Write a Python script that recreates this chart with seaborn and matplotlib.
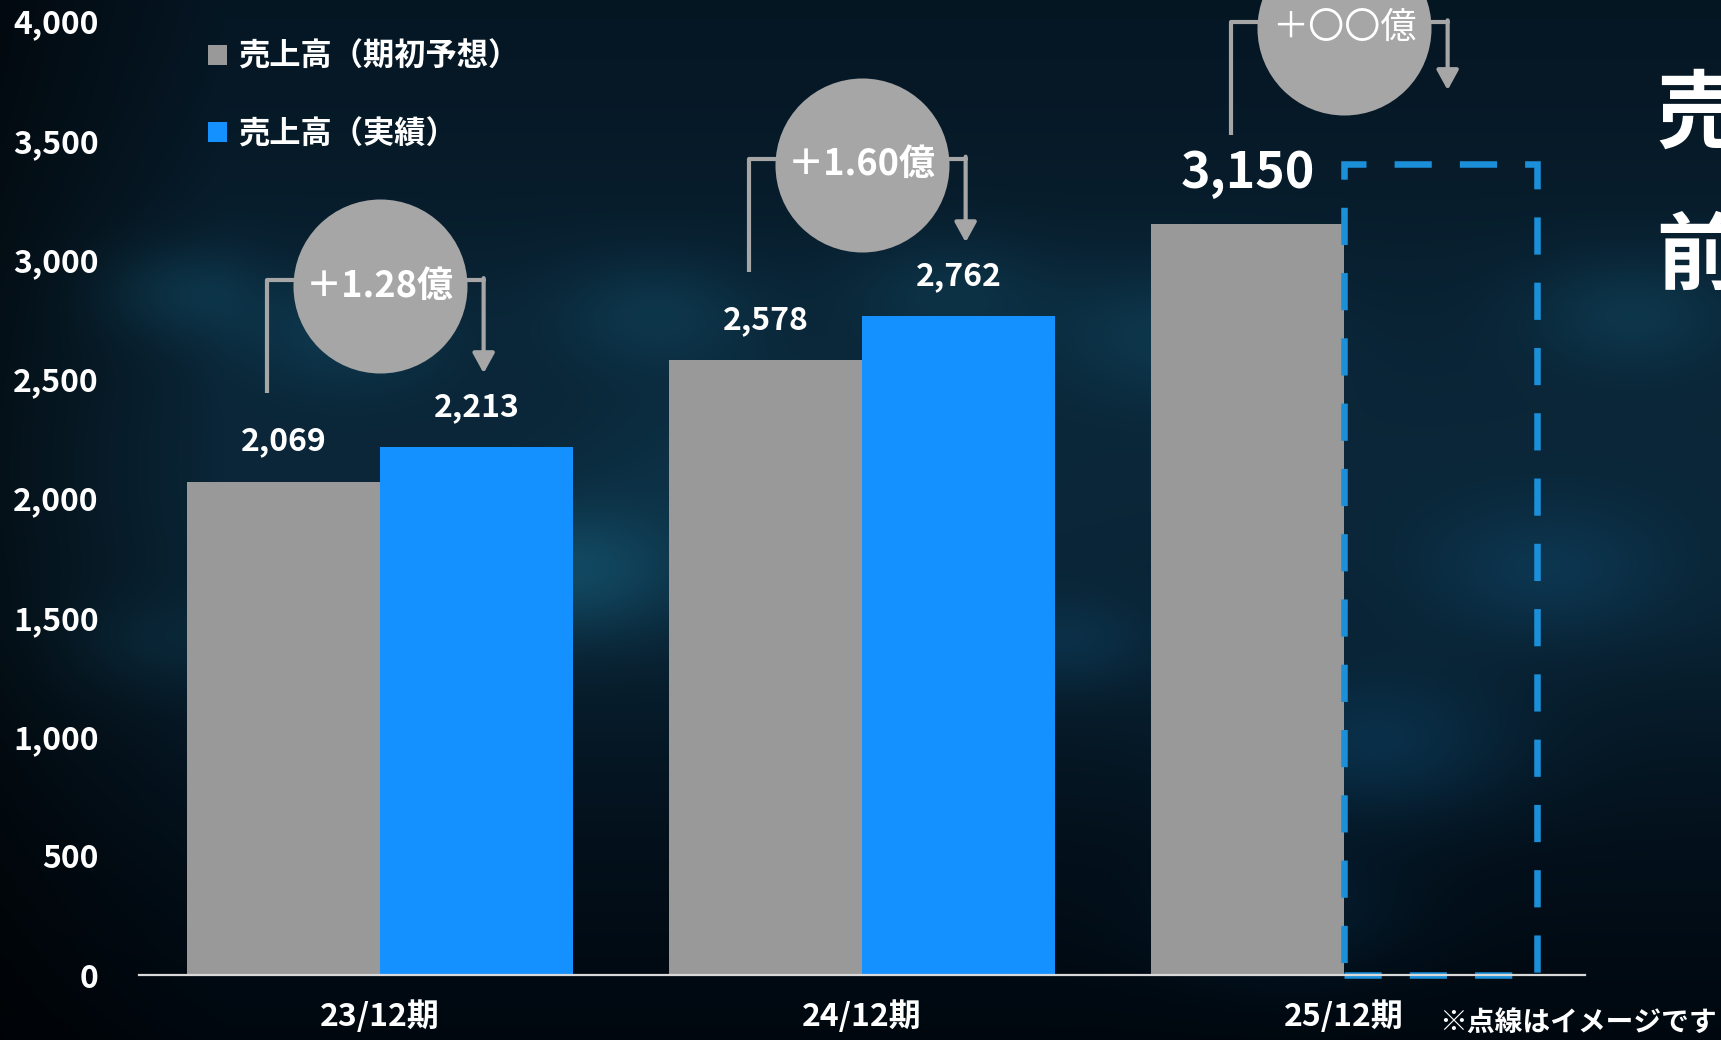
import numpy as np
import pandas as pd
import matplotlib
matplotlib.use("Agg")
import matplotlib.pyplot as plt
import seaborn as sns
from matplotlib.patches import Patch

# ---------------- data ----------------
periods = ["23/12期", "24/12期", "25/12期"]
series_names = ["売上高（期初予想）", "売上高（実績）"]
forecast = [2069, 2578, 3150]
actual = [2213, 2762, np.nan]
image_actual = [np.nan, np.nan, 3400]          # dashed "image" bar
gain_labels = ["＋1.28億", "＋1.60億", "＋〇〇億"]
ytick_values = [0, 500, 1000, 1500, 2000, 2500, 3000, 3500, 4000]
note_text = "※点線はイメージです"
side_titles = ["売", "前"]

# ---------------- style ----------------
GRAY = "#999999"
BLUE = "#1490FF"
DASH = "#1B8FD8"
CIRCLE = "#A6A6A6"
BRACKET = "#A6A6A6"

sns.set_style("white")
plt.rcParams["font.family"] = ["Noto Sans CJK JP", "DejaVu Sans"]

W, H = 1721, 1040
fig = plt.figure(figsize=(W / 100, H / 100), dpi=100)

# ---------------- background ----------------
bg_ax = fig.add_axes([0, 0, 1, 1], zorder=-10)
hh, ww = 260, 430
v, u = np.mgrid[0:1:hh * 1j, 0:1:ww * 1j]
c_top = np.array([0.02, 0.08, 0.13])
c_mid = np.array([0.04, 0.15, 0.22])
c_bot = np.array([0.00, 0.03, 0.06])
w_mid = np.exp(-((v - 0.45) / 0.30) ** 2)
w_bot = np.clip((v - 0.60) / 0.40, 0, 1) ** 1.2
img = (c_top[None, None, :] * (1 - w_mid[..., None]) + c_mid[None, None, :] * w_mid[..., None])
img = img * (1 - w_bot[..., None]) + c_bot[None, None, :] * w_bot[..., None]
teal = np.array([0.10, 0.45, 0.55])
blue_glow = np.array([0.05, 0.30, 0.45])
spots = [
    (0.10, 0.28, 0.05, 0.35, teal), (0.20, 0.32, 0.06, 0.30, teal),
    (0.33, 0.55, 0.07, 0.55, teal), (0.38, 0.30, 0.06, 0.30, teal),
    (0.55, 0.28, 0.06, 0.25, teal), (0.68, 0.32, 0.07, 0.30, teal),
    (0.62, 0.62, 0.05, 0.35, blue_glow), (0.80, 0.72, 0.08, 0.55, blue_glow),
    (0.90, 0.55, 0.07, 0.40, blue_glow), (0.95, 0.30, 0.06, 0.30, teal),
    (0.75, 0.88, 0.07, 0.35, blue_glow), (0.08, 0.62, 0.05, 0.20, teal),
    (0.45, 0.45, 0.10, 0.20, teal),
]
for (cx, cy, s, a, col) in spots:
    g = np.exp(-(((u - cx) / s) ** 2 + ((v - cy) / (s * 0.9)) ** 2))
    img = img + a * g[..., None] * col[None, None, :] * 0.55
left_dark = np.clip(1 - u / 0.13, 0, 1) * 0.55
img = img * (1 - left_dark[..., None])
img = np.clip(img, 0, 1)
bg_ax.imshow(img, aspect="auto", extent=[0, 1, 0, 1], interpolation="bicubic")
bg_ax.set_axis_off()

# ---------------- main axes ----------------
ax = fig.add_axes([139 / W, 65 / H, 1446 / W, 954 / H], zorder=1)
ax.set_facecolor("none")

df = pd.DataFrame({
    "期": periods * 2,
    "系列": [series_names[0]] * 3 + [series_names[1]] * 3,
    "売上高": forecast + actual,
})
sns.barplot(data=df, x="期", y="売上高", hue="系列", hue_order=series_names,
            palette=[GRAY, BLUE], width=0.8, saturation=1, ax=ax, legend=False,
            edgecolor="none", linewidth=0, gap=0, zorder=2)

# dashed "image" bar
for i, val in enumerate(image_actual):
    if not np.isnan(val):
        ax.bar(i + 0.2, val, width=0.4, fill=False, edgecolor=DASH, linewidth=4.7,
               linestyle=(0, (5.7, 4.3)), zorder=3, clip_on=False)

ax.set_xlim(-0.5, 2.5)
ax.set_ylim(0, 4000)

# value labels
for i in range(3):
    big = np.isnan(actual[i])
    fs = 36 if big else 23
    off = 210 if big else 168
    ax.text(i - 0.2, forecast[i] + off, f"{forecast[i]:,}", ha="center", va="center",
            color="white", fontsize=fs, fontweight="bold", zorder=5)
    if not np.isnan(actual[i]):
        ax.text(i + 0.2, actual[i] + 168, f"{int(actual[i]):,}", ha="center", va="center",
                color="white", fontsize=23, fontweight="bold", zorder=5)

# brackets + circles
for i in range(3):
    top_right = actual[i] if not np.isnan(actual[i]) else image_actual[i]
    cy = forecast[i] + 820
    hy = cy + 25
    xl, xr = i - 0.235, i + 0.215
    ax.plot([xl, xl, i], [forecast[i] + 370, hy, hy], color=BRACKET, lw=3,
            solid_capstyle="butt", zorder=3, clip_on=False)
    ax.plot([i, xr], [hy, hy], color=BRACKET, lw=3, zorder=3, clip_on=False)
    ax.annotate("", xy=(xr, top_right + 310), xytext=(xr, hy + 8),
                arrowprops=dict(arrowstyle="-|>,head_length=0.6,head_width=0.33",
                                color=BRACKET, lw=3, shrinkA=0, shrinkB=0,
                                mutation_scale=20),
                zorder=3, annotation_clip=False)
    ax.scatter([i], [cy], s=15700, color=CIRCLE, zorder=4, clip_on=False, linewidths=0)
    ax.text(i, cy, gain_labels[i], ha="center", va="center", color="white",
            fontsize=26, fontweight="bold" if i < 2 else "normal", zorder=5, clip_on=False)

# axes styling
for s in ["top", "right", "left"]:
    ax.spines[s].set_visible(False)
ax.spines["bottom"].set_color("#D9D9D9")
ax.spines["bottom"].set_linewidth(1.6)
ax.spines["bottom"].set_zorder(6)
ax.set_yticks(ytick_values)
ax.set_yticklabels([f"{t:,}" for t in ytick_values])
ax.set_xticks(range(3))
ax.set_xticklabels(periods)
ax.tick_params(axis="y", length=0, pad=29, labelsize=23, labelcolor="white")
ax.tick_params(axis="x", length=0, pad=18, labelsize=23, labelcolor="white")
for lab in ax.get_xticklabels() + ax.get_yticklabels():
    lab.set_fontweight("bold")
ax.set_xlabel("")
ax.set_ylabel("")
ax.grid(False)

# legend
handles = [Patch(facecolor=GRAY, edgecolor="none"), Patch(facecolor=BLUE, edgecolor="none")]
leg = fig.legend(handles, series_names, loc="upper left", bbox_to_anchor=(208 / W, 1 - 41 / H),
                 frameon=False, handlelength=0.62, handleheight=0.62, handletextpad=0.35,
                 labelspacing=1.45, borderpad=0, borderaxespad=0,
                 prop={"size": 22.5, "weight": "bold"})
for t in leg.get_texts():
    t.set_color("white")

# note and side titles
fig.text(1439 / W, 1 - 1023 / H, note_text, ha="left", va="center", color="white",
         fontsize=20, fontweight="bold")
fig.text(1656 / W, 1 - 115 / H, side_titles[0], ha="left", va="center", color="white",
         fontsize=61, fontweight="bold")
fig.text(1656 / W, 1 - 258 / H, side_titles[1], ha="left", va="center", color="white",
         fontsize=61, fontweight="bold")

fig.savefig("out.png", dpi=100)
